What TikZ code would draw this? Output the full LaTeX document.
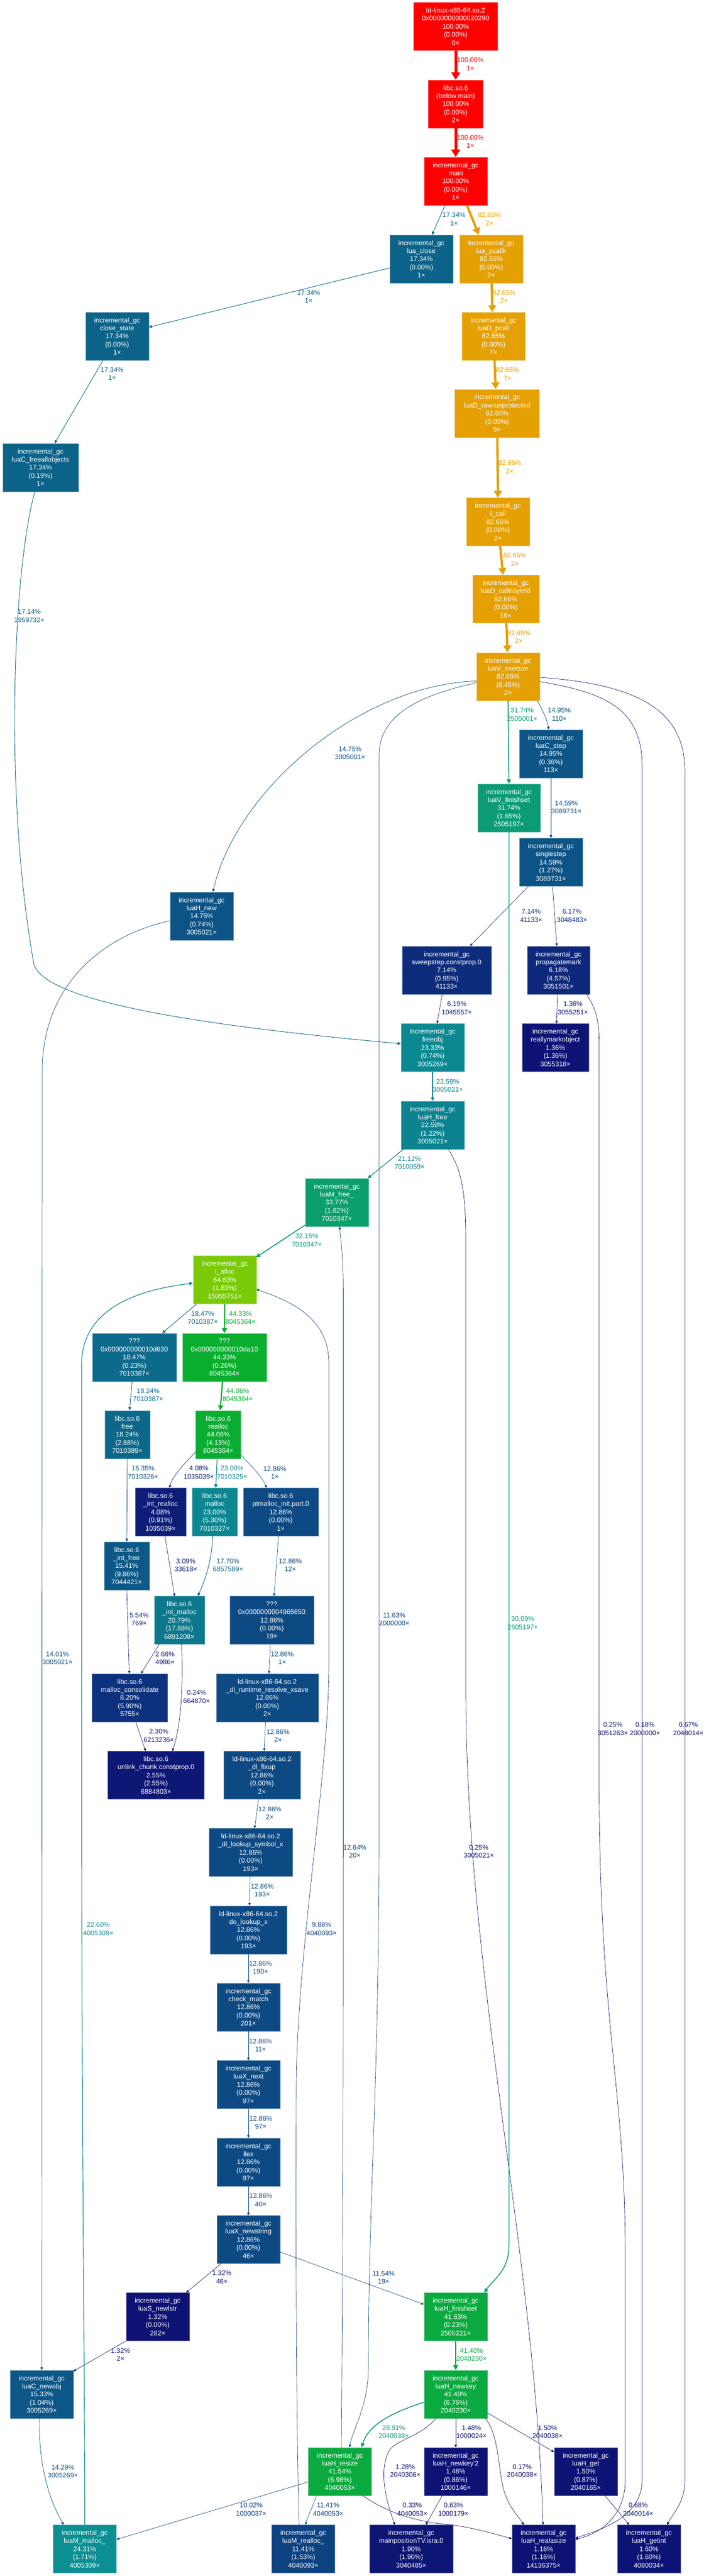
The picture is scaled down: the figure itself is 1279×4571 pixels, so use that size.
\documentclass[tikz,border=0pt]{standalone}
\usepackage{fontspec}
\setmainfont{Liberation Sans}
\usetikzlibrary{arrows.meta,calc}
\newcommand\gchue[2]{%
  \pgfmathsetmacro\gct{#2}%
  \pgfmathsetmacro\gct{\gct<0 ? \gct+1 : \gct}%
  \pgfmathsetmacro\gct{\gct>1 ? \gct-1 : \gct}%
  \pgfmathsetmacro\gcv{\gct*6<1 ? \gcma+(\gcmb-\gcma)*\gct*6 : (\gct*2<1 ? \gcmb : (\gct*3<2 ? \gcma+(\gcmb-\gcma)*(2/3-(\gct))*6 : \gcma))}%
  \pgfmathsetmacro#1{max(0,min(1,\gcv))}%
}
\newcommand\mkcol[2]{%
  \pgfmathsetmacro\gcw{min(max(#2,0),1)}%
  \pgfmathsetmacro\gch{2/3*(1-\gcw)}%
  \pgfmathsetmacro\gcs{0.8+0.2*\gcw}%
  \pgfmathsetmacro\gcl{0.25+0.25*\gcw}%
  \pgfmathsetmacro\gcmb{\gcl*(1+\gcs)}%
  \pgfmathsetmacro\gcma{2*\gcl-\gcmb}%
  \gchue\gcR{\gch+1/3}%
  \gchue\gcG{\gch}%
  \gchue\gcB{\gch-1/3}%
  \definecolor{#1}{rgb}{\gcR,\gcG,\gcB}%
}
\newcommand\gnode[5]{%
  \mkcol{c#1}{#4}%
  \node[gbox, fill=c#1, draw=c#1!70!white, minimum width=#3*0.75pt] (#1) at (#2) {#5};%
}
\newcommand\gedge[5]{%
  \mkcol{e#1}{#2}%
  \pgfmathsetmacro\gcLW{max(3.75*#2,0.47)}%
  \pgfmathsetmacro\gcAL{max(10*sqrt(#2),3.4)}%
  \pgfmathsetmacro\gcAW{0.8*\gcAL+\gcLW}%
  \draw[line width=\gcLW pt, draw=e#1, -{Triangle[length=\gcAL pt,width=\gcAW pt]}] #3;%
  \node[elab, text=e#1] (l#1) at (#4) {#5};%
}
\begin{document}
\begin{tikzpicture}[x=0.75pt,y=-0.75pt,
  gbox/.style={rectangle, inner sep=0pt, minimum height=63.75pt, text=white, align=center, font=\fontsize{9}{10.8}\selectfont, line width=0.6pt},
  elab/.style={inner sep=0pt, align=center, font=\fontsize{9}{10.8}\selectfont}]
\fill[white] (0,0) rectangle (1279,4571);
\useasboundingbox (0,0) rectangle (1279,4571);

\gnode{ldtop}{809,47}{149}{1.0}{ld-linux-x86-64.so.2\\0x0000000000020290\\100.00\%\\(0.00\%)\\0×}
\gnode{libcmain}{809,184.5}{97}{1.0}{libc.so.6\\(below main)\\100.00\%\\(0.00\%)\\2×}
\gnode{main}{809,321.5}{112}{1.0}{incremental\_gc\\main\\100.00\%\\(0.00\%)\\1×}
\gnode{luaclose}{748,459.5}{112}{0.1734}{incremental\_gc\\lua\_close\\17.34\%\\(0.00\%)\\1×}
\gnode{pcallk}{872,459.5}{112}{0.8265}{incremental\_gc\\lua\_pcallk\\82.65\%\\(0.00\%)\\2×}
\gnode{dpcall}{876,596.5}{112}{0.8265}{incremental\_gc\\luaD\_pcall\\82.65\%\\(0.00\%)\\7×}
\gnode{rawrun}{882.5,733.5}{150}{0.8265}{incremental\_gc\\luaD\_rawrunprotected\\82.65\%\\(0.00\%)\\9×}
\gnode{fcall}{884,926}{112}{0.8265}{incremental\_gc\\f\_call\\82.65\%\\(0.00\%)\\2×}
\gnode{callnoyield}{898,1063}{118}{0.8266}{incremental\_gc\\luaD\_callnoyield\\82.66\%\\(0.00\%)\\16×}
\gnode{execute}{902,1200.5}{112}{0.8265}{incremental\_gc\\luaV\_execute\\82.65\%\\(8.45\%)\\2×}
\gnode{lstep}{978,1337.5}{112}{0.1495}{incremental\_gc\\luaC\_step\\14.95\%\\(0.36\%)\\113×}
\gnode{vfinishset}{903.5,1433.5}{111}{0.3174}{incremental\_gc\\luaV\_finishset\\31.74\%\\(1.65\%)\\2505197×}
\gnode{singlestep}{978,1530}{112}{0.1459}{incremental\_gc\\singlestep\\14.59\%\\(1.27\%)\\3089731×}
\gnode{closestate}{208,596.5}{112}{0.1734}{incremental\_gc\\close\_state\\17.34\%\\(0.00\%)\\1×}
\gnode{freeall}{72,829.5}{134}{0.1734}{incremental\_gc\\luaC\_freeallobjects\\17.34\%\\(0.19\%)\\1×}
\gnode{hnew}{358,1625.5}{112}{0.1475}{incremental\_gc\\luaH\_new\\14.75\%\\(0.74\%)\\3005021×}
\gnode{sweep}{793,1721.5}{158}{0.0714}{incremental\_gc\\sweepstep.constprop.0\\7.14\%\\(0.95\%)\\41133×}
\gnode{propag}{991.5,1721.5}{111}{0.0618}{incremental\_gc\\propagatemark\\6.18\%\\(4.57\%)\\3051501×}
\gnode{freeobj}{768,1859}{112}{0.2333}{incremental\_gc\\freeobj\\23.33\%\\(0.74\%)\\3005269×}
\gnode{rmark}{986,1859}{118}{0.0136}{incremental\_gc\\reallymarkobject\\1.36\%\\(1.36\%)\\3055318×}
\gnode{hfree}{768,1996.5}{112}{0.2259}{incremental\_gc\\luaH\_free\\22.59\%\\(1.22\%)\\3005021×}
\gnode{mfree}{598,2133.5}{112}{0.3377}{incremental\_gc\\luaM\_free\_\\33.77\%\\(1.62\%)\\7010347×}
\gnode{lalloc}{399,2271}{112}{0.6463}{incremental\_gc\\l\_alloc\\64.63\%\\(1.83\%)\\15055751×}
\gnode{qa}{238.5,2408.5}{149}{0.1847}{???\\0x000000000010d630\\18.47\%\\(0.23\%)\\7010387×}
\gnode{qb}{398.5,2408.5}{149}{0.4433}{???\\0x000000000010da10\\44.33\%\\(0.26\%)\\8045364×}
\gnode{cfree}{226,2545.5}{80}{0.1824}{libc.so.6\\free\\18.24\%\\(2.88\%)\\7010389×}
\gnode{crealloc}{387.5,2545.5}{80}{0.4406}{libc.so.6\\realloc\\44.06\%\\(4.13\%)\\8045364×}
\gnode{intrealloc}{285,2683}{90}{0.0408}{libc.so.6\\\_int\_realloc\\4.08\%\\(0.91\%)\\1035039×}
\gnode{cmalloc}{381,2683}{80}{0.23}{libc.so.6\\malloc\\23.00\%\\(5.30\%)\\7010327×}
\gnode{ptinit}{498.5,2683}{133}{0.1286}{libc.so.6\\ptmalloc\_init.part.0\\12.86\%\\(0.00\%)\\1×}
\gnode{intfree}{225,2778.5}{80}{0.1541}{libc.so.6\\\_int\_free\\15.41\%\\(9.86\%)\\7044421×}
\gnode{intmalloc}{318.5,2875}{89}{0.2079}{libc.so.6\\\_int\_malloc\\20.79\%\\(17.88\%)\\6891208×}
\gnode{qc}{482.5,2875}{149}{0.1286}{???\\0x0000000004965650\\12.86\%\\(0.00\%)\\19×}
\gnode{consol}{230.5,3012.5}{134}{0.082}{libc.so.6\\malloc\_consolidate\\8.20\%\\(5.90\%)\\5755×}
\gnode{dlrt}{474.5,3012.5}{181}{0.1286}{ld-linux-x86-64.so.2\\\_dl\_runtime\_resolve\_xsave\\12.86\%\\(0.00\%)\\2×}
\gnode{unlink}{277,3150}{171}{0.0255}{libc.so.6\\unlink\_chunk.constprop.0\\2.55\%\\(2.55\%)\\6884803×}
\gnode{fixup}{465,3150}{136}{0.1286}{ld-linux-x86-64.so.2\\\_dl\_fixup\\12.86\%\\(0.00\%)\\2×}
\gnode{lookupsym}{445,3287}{148}{0.1286}{ld-linux-x86-64.so.2\\\_dl\_lookup\_symbol\_x\\12.86\%\\(0.00\%)\\193×}
\gnode{dolookup}{441,3424.5}{136}{0.1286}{ld-linux-x86-64.so.2\\do\_lookup\_x\\12.86\%\\(0.00\%)\\193×}
\gnode{checkmatch}{441,3561.5}{112}{0.1286}{incremental\_gc\\check\_match\\12.86\%\\(0.00\%)\\201×}
\gnode{xnext}{441,3699}{112}{0.1286}{incremental\_gc\\luaX\_next\\12.86\%\\(0.00\%)\\97×}
\gnode{llex}{441,3836.5}{112}{0.1286}{incremental\_gc\\llex\\12.86\%\\(0.00\%)\\97×}
\gnode{newstring}{441,3974}{112}{0.1286}{incremental\_gc\\luaX\_newstring\\12.86\%\\(0.00\%)\\46×}
\gnode{newlstr}{280,4111}{112}{0.0132}{incremental\_gc\\luaS\_newlstr\\1.32\%\\(0.00\%)\\282×}
\gnode{hfinishset}{809,4111}{112}{0.4163}{incremental\_gc\\luaH\_finishset\\41.63\%\\(0.23\%)\\2505221×}
\gnode{newobj}{74,4248.5}{112}{0.1533}{incremental\_gc\\luaC\_newobj\\15.33\%\\(1.04\%)\\3005269×}
\gnode{newkey}{809,4248.5}{112}{0.414}{incremental\_gc\\luaH\_newkey\\41.40\%\\(6.76\%)\\2040230×}
\gnode{resize}{603.5,4385.5}{112}{0.4154}{incremental\_gc\\luaH\_resize\\41.54\%\\(6.98\%)\\4040053×}
\gnode{newkeyb}{809,4385.5}{112}{0.0148}{incremental\_gc\\luaH\_newkey\textquotesingle 2\\1.48\%\\(0.86\%)\\1000146×}
\gnode{hget}{1040,4385.5}{112}{0.015}{incremental\_gc\\luaH\_get\\1.50\%\\(0.87\%)\\2040165×}
\gnode{mmalloc}{150.5,4523}{112}{0.2431}{incremental\_gc\\luaM\_malloc\_\\24.31\%\\(1.71\%)\\4005309×}
\gnode{mrealloc}{538.5,4523}{112}{0.1141}{incremental\_gc\\luaM\_realloc\_\\11.41\%\\(1.53\%)\\4040093×}
\gnode{mainpos}{730,4523}{148}{0.019}{incremental\_gc\\mainpositionTV.isra.0\\1.90\%\\(1.90\%)\\3040485×}
\gnode{realasize}{965,4523}{112}{0.0116}{incremental\_gc\\luaH\_realasize\\1.16\%\\(1.16\%)\\14136375×}
\gnode{getint}{1152,4523}{112}{0.016}{incremental\_gc\\luaH\_getint\\1.60\%\\(1.60\%)\\4080034×}

\gedge{a1}{1.0}{(ldtop.south) -- (libcmain.north)}{835,114}{100.00\%\\1×}
\gedge{a2}{1.0}{(libcmain.south) -- (main.north)}{835,251.5}{100.00\%\\1×}
\gedge{a3}{0.1734}{($(main.south)+(-19,0)$) -- ($(luaclose.north)+(19,0)$)}{806,389}{17.34\%\\1×}
\gedge{a4}{0.8265}{($(main.south)+(20,0)$) -- ($(pcallk.north)+(-22,0)$)}{869,389}{82.65\%\\2×}
\gedge{a5}{0.8265}{($(pcallk.south)+(1,0)$) -- ($(dpcall.north)+(-2,0)$)}{895,526.5}{82.65\%\\2×}
\gedge{a6}{0.8265}{($(dpcall.south)+(2,0)$) -- ($(rawrun.north)+(-2.5,0)$)}{901,664}{82.65\%\\7×}
\gedge{a7}{0.8265}{($(rawrun.south)+(0.5,0)$) -- (fcall.north)}{905,829}{82.65\%\\2×}
\gedge{a8}{0.8265}{($(fcall.south)+(4,0)$) -- ($(callnoyield.north)+(-5,0)$)}{914,993}{82.65\%\\2×}
\gedge{a9}{0.8265}{($(callnoyield.south)+(1,0)$) -- ($(execute.north)+(-1,0)$)}{921,1130}{82.65\%\\2×}
\gedge{b1}{0.1734}{($(luaclose.west)+(0,16)$) -- ($(closestate.east)+(0,-16)$)}{548,526.5}{17.34\%\\1×}
\gedge{b2}{0.1734}{($(closestate.south)+(-25,0)$) -- ($(freeall.north)+(25,0)$)}{199,663.5}{17.34\%\\1×}
\gedge{b3}{0.1714}{($(freeall.south)+(-10,0)$) .. controls (25,1000) and (5,1400) .. (60,1710) .. controls (75,1770) and (300,1815) .. ($(freeobj.west)+(0,-7)$)}{52,1093}{17.14\%\\1959732×}
\gedge{b4}{0.1475}{($(execute.west)+(0,8)$) .. controls (640,1215) and (420,1400) .. ($(hnew.north)+(20,0)$)}{621.5,1336.5}{14.75\%\\3005001×}
\gedge{b5}{0.3174}{(execute.south) -- (vfinishset.north)}{927,1268}{31.74\%\\2505001×}
\gedge{b6}{0.1495}{($(execute.south)+(52,0)$) .. controls (964,1262) and (972,1278) .. ($(lstep.north)+(-4,0)$)}{993,1268}{14.95\%\\110×}
\gedge{b7}{0.1459}{(lstep.south) -- (singlestep.north)}{1005.5,1432.5}{14.59\%\\3089731×}
\gedge{b8}{0.1163}{($(execute.west)+(0,11)$) .. controls (740,1235) and (673,1270) .. (673,1340) -- (673,3250) .. controls (673,3700) and (654,3900) .. (654,4200) .. controls (654,4270) and (628,4305) .. ($(resize.north)+(17,0)$)}{700,2873.5}{11.63\%\\2000000×}
\gedge{b9}{0.0018}{($(execute.east)+(0,9)$) .. controls (1080,1230) and (1140,1260) .. (1140,1360) -- (1140,4400) .. controls (1140,4470) and (1060,4490) .. ($(realasize.east)+(0,-19)$)}{1145,3068}{0.18\%\\2000000×}
\gedge{c1}{0.0067}{($(execute.east)+(0,1.5)$) .. controls (1150,1215) and (1216,1270) .. (1216,1370) -- (1216,4400) .. controls (1216,4440) and (1195,4460) .. ($(getint.north)+(32,0)$)}{1222,3068}{0.67\%\\2048014×}
\gedge{c2}{0.0714}{($(singlestep.south)+(-40,0)$) -- ($(sweep.north)+(41.5,0)$)}{943,1625}{7.14\%\\41133×}
\gedge{c3}{0.0617}{($(singlestep.south)+(3,0)$) -- ($(propag.north)+(-3,0)$)}{1015.5,1625}{6.17\%\\3048483×}
\gedge{c4}{0.0619}{($(sweep.south)+(-8,0)$) -- ($(freeobj.north)+(8,0)$)}{811,1789}{6.19\%\\1045557×}
\gedge{c5}{0.0136}{($(propag.south)+(-1.5,0)$) -- ($(rmark.north)+(2,0)$)}{1017,1789}{1.36\%\\3055251×}
\gedge{c6}{0.0025}{($(propag.south)+(50,0)$) .. controls (1058,1790) and (1063.6,1810) .. (1063.6,1850) -- (1063.6,3150) .. controls (1063.6,3600) and (1110,3700) .. (1110,4000) -- (1110,4400) .. controls (1110,4470) and (1060,4497) .. ($(realasize.east)+(0,-17)$)}{1088,3068}{0.25\%\\3051263×}
\gedge{c7}{0.2259}{(freeobj.south) -- (hfree.north)}{795,1926.5}{22.59\%\\3005021×}
\gedge{c8}{0.2112}{($(hfree.south)+(-52,0)$) -- ($(mfree.north)+(55,0)$)}{727,2063.5}{21.12\%\\7010059×}
\gedge{c9}{0.0025}{($(hfree.south)+(28,0)$) .. controls (815,2070) and (827,2100) .. (827,2200) -- (827,3000) .. controls (827,3500) and (950,4000) .. ($(realasize.north)+(-1,0)$)}{850,3285.5}{0.25\%\\3005021×}
\gedge{d1}{0.3215}{($(mfree.south west)+(0,-2.5)$) -- ($(lalloc.north east)+(-1,3)$)}{544.6,2201}{32.15\%\\7010347×}
\gedge{d2}{0.1847}{($(lalloc.south)+(-50,0)$) -- ($(qa.north)+(49.5,0)$)}{360,2338.5}{18.47\%\\7010387×}
\gedge{d3}{0.4433}{(lalloc.south) -- (qb.north)}{427,2338.5}{44.33\%\\8045364×}
\gedge{d4}{0.1824}{($(qa.south)+(-4,0)$) -- ($(cfree.north)+(4,0)$)}{263,2475.5}{18.24\%\\7010387×}
\gedge{d5}{0.4406}{($(qb.south)+(-3.5,0)$) -- ($(crealloc.north)+(3.5,0)$)}{422,2475.5}{44.06\%\\8045364×}
\gedge{d6}{0.0408}{($(crealloc.west)+(0,30.5)$) .. controls (330,2595) and (305,2620) .. ($(intrealloc.north)+(16,0)$)}{353,2613}{4.08\%\\1035039×}
\gedge{d7}{0.23}{($(crealloc.south)+(-2,0)$) -- ($(cmalloc.north)+(2,0)$)}{412,2613}{23.00\%\\7010325×}
\gedge{d8}{0.1286}{($(crealloc.east)+(0,36.5)$) .. controls (445,2600) and (465,2620) .. ($(ptinit.north)+(-25,0)$)}{488,2613}{12.86\%\\1×}
\gedge{d9}{0.1535}{(cfree.south) -- (intfree.north)}{254,2613}{15.35\%\\7010326×}
\gedge{e1}{0.0309}{($(intrealloc.south)+(8,0)$) -- ($(intmalloc.north)+(-8.5,0)$)}{330,2777.5}{3.09\%\\33618×}
\gedge{e2}{0.177}{($(cmalloc.south)+(-3.5,0)$) .. controls (376,2770) and (365,2800) .. ($(intmalloc.north)+(33,0)$)}{404.7,2777.5}{17.70\%\\6857589×}
\gedge{e3}{0.1286}{($(ptinit.south)+(-4,0)$) -- ($(qc.north)+(4,0)$)}{515.4,2777.5}{12.86\%\\12×}
\gedge{e4}{0.0554}{(intfree.south) -- ($(consol.north)+(-1,0)$)}{247,2873.5}{5.54\%\\769×}
\gedge{e5}{0.0266}{($(intmalloc.south)+(-36,0)$) -- ($(consol.north)+(20,0)$)}{293,2942.5}{2.66\%\\4986×}
\gedge{e6}{0.1286}{($(qc.south)+(-2.5,0)$) -- ($(dlrt.north)+(3,0)$)}{501,2942.5}{12.86\%\\1×}
\gedge{e7}{0.0024}{($(intmalloc.south)+(4,0)$) .. controls (325,2990) and (322,3060) .. ($(unlink.north)+(29,0)$)}{349,3011}{0.24\%\\664870×}
\gedge{e8}{0.023}{($(consol.south)+(10.5,0)$) -- ($(unlink.north)+(-18.5,0)$)}{282,3080}{2.30\%\\6213236×}
\gedge{e9}{0.1286}{($(dlrt.south)+(-3,0)$) -- ($(fixup.north)+(4,0)$)}{493.6,3080}{12.86\%\\2×}
\gedge{f1}{0.1286}{($(fixup.south)+(-6,0)$) -- ($(lookupsym.north)+(7,0)$)}{479,3217}{12.86\%\\2×}
\gedge{f2}{0.1286}{($(lookupsym.south)+(-1,0)$) -- ($(dolookup.north)+(2,0)$)}{465.6,3354.5}{12.86\%\\193×}
\gedge{f3}{0.1286}{(dolookup.south) -- (checkmatch.north)}{462.5,3491.5}{12.86\%\\190×}
\gedge{f4}{0.1286}{(checkmatch.south) -- (xnext.north)}{462.5,3629}{12.86\%\\11×}
\gedge{f5}{0.1286}{(xnext.south) -- (llex.north)}{463,3766.5}{12.86\%\\97×}
\gedge{f6}{0.1286}{(llex.south) -- (newstring.north)}{463,3904}{12.86\%\\40×}
\gedge{f7}{0.0132}{($(newstring.south)+(-49,0)$) -- ($(newlstr.north)+(50.6,0)$)}{394,4041}{1.32\%\\46×}
\gedge{f8}{0.1154}{($(newstring.east)+(0,22)$) -- ($(hfinishset.west)+(0,-22)$)}{681,4041.5}{11.54\%\\19×}
\gedge{f9}{0.0132}{(newlstr.south west) -- ($(newobj.north east)+(0,2)$)}{214,4178.5}{1.32\%\\2×}
\gedge{g1}{0.1401}{($(hnew.west)+(0,8.5)$) .. controls (180,1660) and (75,1750) .. (75,1900) -- (newobj.north)}{102,2942.5}{14.01\%\\3005021×}
\gedge{g2}{0.3009}{(vfinishset.south) -- (903.5,3985) .. controls (903.5,4030) and (875,4045) .. ($(hfinishset.north)+(51,0)$)}{928,2880}{30.09\%\\2505197×}
\gedge{g3}{0.414}{(hfinishset.south) -- (newkey.north)}{837,4178.5}{41.40\%\\2040230×}
\gedge{g4}{0.2991}{($(newkey.west)+(0,14)$) .. controls (700,4280) and (655,4300) .. ($(resize.north)+(38.5,0)$)}{699,4315.5}{29.91\%\\2040038×}
\gedge{g5}{0.0148}{(newkey.south) -- (newkeyb.north)}{837,4315.5}{1.48\%\\1000024×}
\gedge{g6}{0.015}{($(newkey.east)+(0,33)$) -- ($(hget.west)+(0,-34.5)$)}{972,4315.5}{1.50\%\\2040038×}
\gedge{g7}{0.0128}{($(newkey.south)+(-35,0)$) .. controls (745,4325) and (700,4330) .. (690,4350) .. controls (670,4390) and (690,4450) .. ($(mainpos.north)+(-29,0)$)}{719.5,4384.5}{1.28\%\\2040306×}
\gedge{g8}{0.0017}{($(newkey.south)+(53,0)$) .. controls (885,4320) and (885,4380) .. (893,4413) .. controls (900,4445) and (920,4465) .. ($(realasize.north)+(-35,0)$)}{927,4384.5}{0.17\%\\2040038×}
\gedge{g9}{0.0063}{($(newkeyb.south)+(-24,0)$) -- ($(mainpos.north)+(26,0)$)}{805,4453}{0.63\%\\1000179×}
\gedge{h1}{0.0033}{($(resize.south)+(40.5,0)$) .. controls (690,4460) and (740,4475) .. (800,4480) .. controls (840,4485) and (880,4497) .. ($(realasize.west)+(0,-18.5)$)}{732,4453}{0.33\%\\4040053×}
\gedge{h2}{0.0068}{($(hget.south)+(34,0)$) -- ($(getint.north)+(-35,0)$)}{1133,4453}{0.68\%\\2040014×}
\gedge{h3}{0.1141}{($(resize.south)+(-42,0)$) .. controls (555,4450) and (546,4465) .. ($(mrealloc.north)+(4,0)$)}{582.6,4453}{11.41\%\\4040053×}
\gedge{h4}{0.1002}{($(resize.west)+(0,18.5)$) -- ($(mmalloc.east)+(0,-17)$)}{446,4453}{10.02\%\\1000037×}
\gedge{h5}{0.1264}{($(resize.north)+(2.5,0)$) .. controls (609,4000) and (609.5,3500) .. (609.5,3000) -- (609.5,2300) .. controls (609.5,2230) and (605,2200) .. ($(mfree.south)+(5,0)$)}{630,3285.5}{12.64\%\\20×}
\gedge{h6}{0.1429}{($(newobj.south)+(-4,0)$) .. controls (68,4380) and (90,4440) .. ($(mmalloc.north)+(-37.5,0)$)}{111.6,4385.5}{14.29\%\\3005269×}
\gedge{h7}{0.226}{(mmalloc.north) .. controls (150.5,4200) and (145,3800) .. (145,3200) -- (145,2420) .. controls (145,2330) and (230,2290) .. ($(lalloc.west)+(0,6)$)}{174.5,3423}{22.60\%\\4005309×}
\gedge{h8}{0.0988}{($(mrealloc.north)+(-7.5,0)$) .. controls (526,4300) and (525,4000) .. (526,3700) .. controls (528,3450) and (584,3150) .. (584,2950) -- (584,2420) .. controls (584,2340) and (520,2310) .. ($(lalloc.east)+(0,17)$)}{571,3423}{9.88\%\\4040093×}
\end{tikzpicture}
\end{document}
